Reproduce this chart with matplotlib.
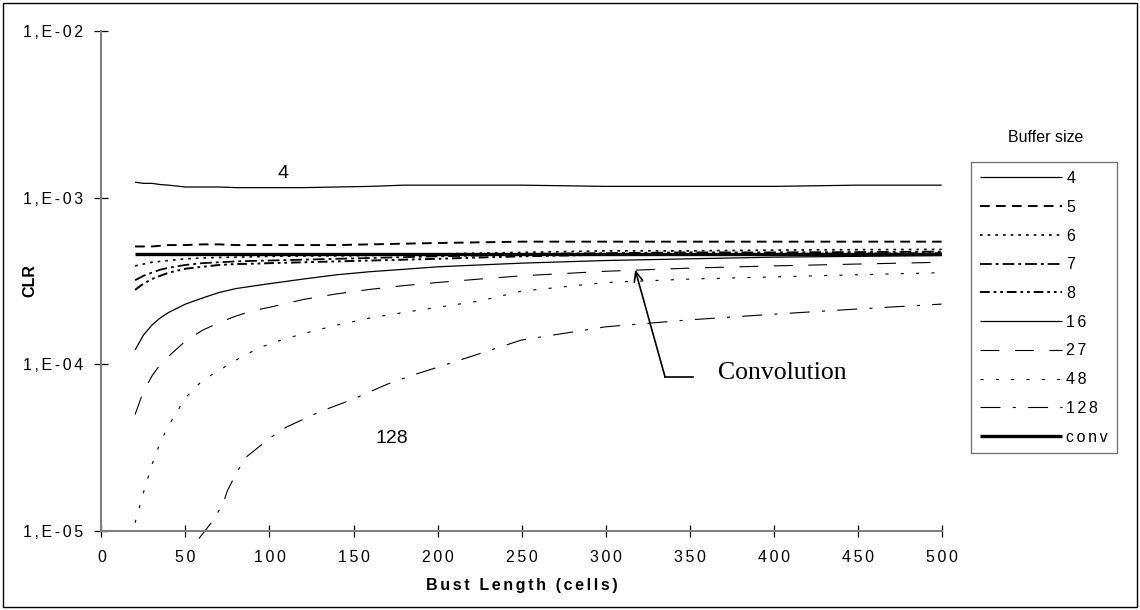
import matplotlib
matplotlib.use("Agg")
import matplotlib.pyplot as plt
from matplotlib.patches import Rectangle
from matplotlib.ticker import FixedLocator, NullLocator

plt.rcParams['font.family'] = ['Liberation Sans', 'DejaVu Sans']

# Burst length grid (cells)
burst = [20, 25, 30, 35, 40, 50, 60, 70, 80, 90, 100, 120, 140, 160, 180,
         200, 225, 250, 300, 350, 400, 450, 500]

# Cell loss ratio per buffer size
clr_4 = [1.24e-3, 1.22e-3, 1.22e-3, 1.20e-3, 1.19e-3, 1.16e-3, 1.16e-3, 1.16e-3,
         1.15e-3, 1.15e-3, 1.15e-3, 1.15e-3, 1.16e-3, 1.17e-3, 1.19e-3, 1.19e-3,
         1.19e-3, 1.19e-3, 1.17e-3, 1.17e-3, 1.17e-3, 1.19e-3, 1.19e-3]
clr_5 = [5.10e-4, 5.10e-4, 5.10e-4, 5.15e-4, 5.20e-4, 5.20e-4, 5.25e-4, 5.25e-4,
         5.20e-4, 5.20e-4, 5.20e-4, 5.20e-4, 5.20e-4, 5.25e-4, 5.30e-4, 5.35e-4,
         5.40e-4, 5.45e-4, 5.45e-4, 5.45e-4, 5.45e-4, 5.45e-4, 5.45e-4]
clr_6 = [3.90e-4, 4.00e-4, 4.10e-4, 4.15e-4, 4.20e-4, 4.30e-4, 4.35e-4, 4.38e-4,
         4.40e-4, 4.42e-4, 4.45e-4, 4.47e-4, 4.48e-4, 4.50e-4, 4.55e-4, 4.60e-4,
         4.65e-4, 4.70e-4, 4.80e-4, 4.80e-4, 4.85e-4, 4.88e-4, 4.90e-4]
clr_7 = [3.20e-4, 3.40e-4, 3.55e-4, 3.70e-4, 3.80e-4, 3.95e-4, 4.05e-4, 4.10e-4,
         4.15e-4, 4.18e-4, 4.20e-4, 4.25e-4, 4.30e-4, 4.35e-4, 4.40e-4, 4.45e-4,
         4.50e-4, 4.60e-4, 4.65e-4, 4.70e-4, 4.70e-4, 4.72e-4, 4.75e-4]
clr_8 = [2.80e-4, 3.05e-4, 3.25e-4, 3.40e-4, 3.55e-4, 3.75e-4, 3.85e-4, 3.95e-4,
         4.00e-4, 4.02e-4, 4.05e-4, 4.10e-4, 4.15e-4, 4.20e-4, 4.25e-4, 4.30e-4,
         4.38e-4, 4.45e-4, 4.55e-4, 4.58e-4, 4.60e-4, 4.62e-4, 4.65e-4]
clr_16 = [1.22e-4, 1.50e-4, 1.72e-4, 1.90e-4, 2.05e-4, 2.30e-4, 2.50e-4, 2.70e-4,
          2.85e-4, 2.95e-4, 3.05e-4, 3.25e-4, 3.45e-4, 3.60e-4, 3.72e-4, 3.85e-4,
          3.95e-4, 4.05e-4, 4.20e-4, 4.30e-4, 4.40e-4, 4.45e-4, 4.50e-4]
clr_27 = [5.00e-5, 6.90e-5, 8.50e-5, 1.00e-4, 1.12e-4, 1.38e-4, 1.60e-4, 1.78e-4,
          1.95e-4, 2.10e-4, 2.20e-4, 2.45e-4, 2.65e-4, 2.82e-4, 2.97e-4, 3.10e-4,
          3.25e-4, 3.40e-4, 3.62e-4, 3.78e-4, 3.90e-4, 4.00e-4, 4.10e-4]
clr_48 = [1.12e-5, 1.70e-5, 2.50e-5, 3.40e-5, 4.30e-5, 6.30e-5, 8.00e-5, 9.20e-5,
          1.06e-4, 1.20e-4, 1.33e-4, 1.53e-4, 1.72e-4, 1.90e-4, 2.05e-4, 2.20e-4,
          2.40e-4, 2.75e-4, 3.10e-4, 3.25e-4, 3.35e-4, 3.45e-4, 3.55e-4]
clr_conv = [4.60e-4] * len(burst)

# Buffer 128 only rises above the axis floor after ~60 cells
burst_128 = [58, 65, 72, 75, 80, 86, 100, 110, 130, 150, 170, 185, 200, 250,
             300, 350, 400, 450, 500]
clr_128 = [9.0e-6, 1.11e-5, 1.43e-5, 1.75e-5, 2.20e-5, 2.77e-5, 3.60e-5, 4.20e-5,
           5.20e-5, 6.20e-5, 7.60e-5, 8.60e-5, 9.60e-5, 1.40e-4, 1.68e-4, 1.85e-4,
           2.00e-4, 2.15e-4, 2.30e-4]

x_ticks = [0, 50, 100, 150, 200, 250, 300, 350, 400, 450, 500]
y_ticks = [1e-5, 1e-4, 1e-3, 1e-2]
y_tick_labels = ["1,E-05", "1,E-04", "1,E-03", "1,E-02"]


def spaced(text):
    """Loosen letter spacing with six-per-em spaces between characters."""
    return "\u2006".join(text)


fig = plt.figure(figsize=(11.4, 6.1), dpi=100)
ax = fig.add_axes([0.089, 0.1295, 0.737, 0.8195])

series = [
    (burst, clr_4, "4", dict(lw=0.9, ls="-")),
    (burst, clr_5, "5", dict(lw=1.4, ls=(0, (5.0, 3.2)))),
    (burst, clr_6, "6", dict(lw=1.2, ls=(0, (1.6, 3.0)))),
    (burst, clr_7, "7", dict(lw=1.3, ls=(0, (6.5, 2.2, 1.6, 2.2)))),
    (burst, clr_8, "8", dict(lw=1.4, ls=(0, (5.0, 2.0, 1.4, 2.0, 1.4, 2.0)))),
    (burst, clr_16, "16", dict(lw=0.9, ls="-")),
    (burst, clr_27, "27", dict(lw=0.8, ls=(0, (17.0, 14.0)))),
    (burst, clr_48, "48", dict(lw=0.8, ls=(0, (2.8, 11.0)))),
    (burst_128, clr_128, "128", dict(lw=0.8, ls=(0, (18.0, 11.0, 2.8, 11.0)), clip_on=False)),
    (burst, clr_conv, "conv", dict(lw=2.4, ls="-")),
]
for xs, ys, name, style in series:
    ax.plot(xs, ys, color="black", label=spaced(name), solid_capstyle="butt",
            dash_capstyle="butt", **style)

ax.set_yscale("log")
ax.set_xlim(0, 500)
ax.set_ylim(1e-5, 1e-2)
ax.yaxis.set_major_locator(FixedLocator(y_ticks))
ax.yaxis.set_minor_locator(NullLocator())
ax.set_yticklabels([spaced(t) for t in y_tick_labels])
ax.set_xticks(x_ticks)
ax.set_xticklabels([spaced(str(t)) for t in x_ticks])

for side in ("top", "right"):
    ax.spines[side].set_visible(False)
for side in ("left", "bottom"):
    ax.spines[side].set_color("#808080")
    ax.spines[side].set_linewidth(1.5)

ax.tick_params(axis="y", direction="inout", length=10, width=0.9, pad=8,
               labelsize=11.5, color="black")
ax.tick_params(axis="x", direction="inout", length=8, width=0.9, pad=10,
               labelsize=11.5, color="black")

ax.set_ylabel("CLR", fontsize=11.5, fontweight="bold")
ax.yaxis.set_label_coords(-0.076, 0.5)
ax.set_xlabel(spaced("Bust Length (cells)"), fontsize=11.5, fontweight="bold",
              labelpad=9)

# Curve labels
ax.text(108, 1.39e-3, "4", fontsize=14, ha="center", va="center")
ax.text(173, 3.6e-5, "128", fontsize=14, ha="center", va="center")

# Pointer to the convolution reference curve
ax.plot([352, 335.4], [8.4e-5, 8.4e-5], color="black", lw=1.2)
ax.annotate("", xy=(317.6, 3.7e-4), xytext=(335.4, 8.4e-5),
            arrowprops=dict(arrowstyle="->,head_length=0.7,head_width=0.3",
                            lw=1.2, color="black", shrinkA=0, shrinkB=0))
ax.text(367, 8.9e-5, "Convolution", fontsize=18.5, ha="left", va="center",
        family=["Liberation Serif", "DejaVu Serif"])

leg = ax.legend(loc="upper left", bbox_to_anchor=(0.852, 0.734),
                bbox_transform=fig.transFigure, fontsize=11.5, frameon=True,
                fancybox=False, edgecolor="#555555", handlelength=5.1,
                handletextpad=0.3, labelspacing=0.86, borderpad=0.55,
                borderaxespad=0)
leg.get_frame().set_linewidth(1.0)

fig.text(0.917, 0.775, "Buffer size", fontsize=11.5, ha="center", va="center")

# Outer frame of the chart area
fig.patches.append(Rectangle((0.003, 0.005), 0.994, 0.99, transform=fig.transFigure,
                             fill=False, edgecolor="black", lw=1.0))

fig.savefig("out.png", dpi=100)
